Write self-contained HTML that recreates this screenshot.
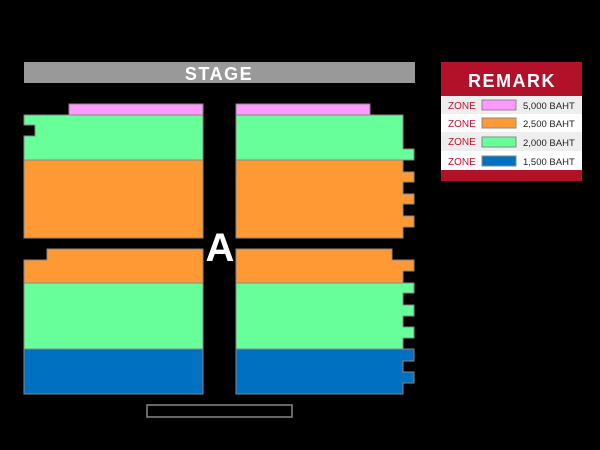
<!DOCTYPE html>
<html><head><meta charset="utf-8"><style>
html,body{margin:0;padding:0;background:#000;width:600px;height:450px;overflow:hidden}
</style></head><body>
<svg width="600" height="450" xmlns="http://www.w3.org/2000/svg" style="display:block;font-family:'Liberation Sans',sans-serif">
<rect width="600" height="450" fill="#000"/>
<rect x="24" y="62" width="391" height="21" fill="#999"/>
<text x="219" y="80" text-anchor="middle" font-size="18" font-weight="bold" fill="#fff" letter-spacing="1.5">STAGE</text>
<g stroke="#888" stroke-width="1">
<!-- left -->
<rect x="69" y="104" width="134" height="11" fill="#ff99ff"/>
<polygon points="24,115 203,115 203,160 24,160 24,136 35,136 35,125 24,125" fill="#66ff99"/>
<rect x="24" y="160" width="179" height="78" fill="#ff9933"/>
<polygon points="47,249 203,249 203,283 24,283 24,260 47,260" fill="#ff9933"/>
<rect x="24" y="283" width="179" height="66" fill="#66ff99"/>
<rect x="24" y="349" width="179" height="45" fill="#0070c0"/>
<!-- right -->
<rect x="236" y="104" width="134" height="11" fill="#ff99ff"/>
<polygon points="236,115 403,115 403,149 414,149 414,160 236,160" fill="#66ff99"/>
<polygon points="236,160 403,160 403,172 414,172 414,182 403,182 403,194 414,194 414,204 403,204 403,216 414,216 414,227 403,227 403,238 236,238" fill="#ff9933"/>
<polygon points="236,249 392,249 392,260 414,260 414,271 403,271 403,283 236,283" fill="#ff9933"/>
<polygon points="236,283 414,283 414,293 403,293 403,305 414,305 414,316 403,316 403,327 414,327 414,338 403,338 403,349 236,349" fill="#66ff99"/>
<polygon points="236,349 414,349 414,361 403,361 403,372 414,372 414,383 403,383 403,394 236,394" fill="#0070c0"/>
</g>
<text x="220" y="261" text-anchor="middle" font-size="40" font-weight="bold" fill="#fff" stroke="#000" stroke-width="2" paint-order="stroke">A</text>
<rect x="147" y="405" width="145" height="12" fill="none" stroke="#888" stroke-width="1.5"/>
<!-- remark -->
<rect x="441" y="62" width="141" height="119" fill="#b3102a"/>
<text x="512" y="87" text-anchor="middle" font-size="18" font-weight="bold" fill="#fff" letter-spacing="1.5">REMARK</text>
<rect x="441" y="96" width="141" height="18" fill="#eeeeee"/>
<rect x="441" y="114" width="141" height="18" fill="#ffffff"/>
<rect x="441" y="132" width="141" height="19" fill="#eeeeee"/>
<rect x="441" y="151" width="141" height="19" fill="#ffffff"/>
<g font-size="10" fill="#c8102e">
<text x="448" y="109">ZONE</text><text x="448" y="127">ZONE</text><text x="448" y="145">ZONE</text><text x="448" y="165">ZONE</text>
</g>
<g stroke="#888">
<rect x="482" y="100" width="34" height="10" fill="#ff99ff"/>
<rect x="482" y="118" width="34" height="10" fill="#ff9933"/>
<rect x="482" y="137" width="34" height="10" fill="#66ff99"/>
<rect x="482" y="156" width="34" height="10" fill="#0070c0"/>
</g>
<g font-size="9.5" fill="#222">
<text x="523" y="109">5,000 BAHT</text><text x="523" y="127">2,500 BAHT</text><text x="523" y="146">2,000 BAHT</text><text x="523" y="165">1,500 BAHT</text>
</g>
</svg>
</body></html>
